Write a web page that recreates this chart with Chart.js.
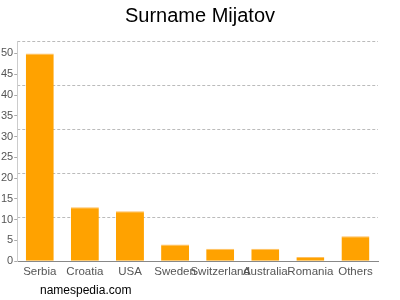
<!DOCTYPE html>
<html>
<head>
<meta charset="utf-8">
<script src="https://cdn.jsdelivr.net/npm/chart.js@4"></script>
<style>
  html, body { margin: 0; padding: 0; background: #fff; }
  #wrap { position: relative; width: 400px; height: 300px; }
  #credit { position: absolute; left: 40px; top: 283px; font: 12px "Liberation Sans", Arial, sans-serif; color: #000; }
</style>
</head>
<body>
<div id="wrap">
  <canvas id="chart" width="400" height="300"></canvas>
  <div id="credit">namespedia.com</div>
</div>
<script>
const countries = ['Serbia', 'Croatia', 'USA', 'Sweden', 'Switzerland', 'Australia', 'Romania', 'Others'];
const counts = [50, 13, 12, 4, 3, 3, 1, 6];
const yTicks = [0, 5, 10, 15, 20, 25, 30, 35, 40, 45, 50];
const yMax = 53;

// dashed grid splits the full axis height into 5 equal bands
const gridSteps = [1, 2, 3, 4, 5];

new Chart(document.getElementById('chart'), {
    type: 'bar',
    data: {
        labels: countries,
        datasets: [{
            data: counts,
            backgroundColor: '#ffa200',
            borderColor: '#ffc060',
            borderWidth: { top: 1, left: 0, right: 0, bottom: 0 },
            borderSkipped: false,
            barPercentage: 0.62,
            categoryPercentage: 1
        }]
    },
    options: {
        responsive: false,
        animation: false,
        layout: { padding: { left: 0, right: 0, top: 0, bottom: 21 } },
        plugins: {
            legend: { display: false },
            tooltip: { enabled: false },
            title: {
                display: true,
                text: 'Surname Mijatov',
                color: '#000',
                font: { family: 'Liberation Sans', size: 20, weight: 'normal' },
                padding: { top: 4, bottom: 13 }
            }
        },
        scales: {
            x: {
                grid: { display: false, drawOnChartArea: false, tickLength: 4, color: '#888' },
                border: { color: '#888' },
                ticks: {
                    color: '#555',
                    font: { family: 'Liberation Sans', size: 11.5 },
                    maxRotation: 0,
                    autoSkip: false,
                    padding: 0
                }
            },
            y: {
                min: 0,
                max: yMax,
                afterBuildTicks: s => { s.ticks = yTicks.map(v => ({ value: v })); },
                grid: { drawOnChartArea: false, tickLength: 3, color: '#aaa' },
                border: { color: '#ccc' },
                ticks: {
                    color: '#555',
                    font: { family: 'Liberation Sans', size: 11 },
                    padding: 1
                }
            },
            yGrid: {
                position: 'right',
                min: 0,
                max: yMax,
                afterBuildTicks: s => { s.ticks = gridSteps.map(k => ({ value: yMax * k / 5 })); },
                afterFit: s => { s.width = 22; },
                ticks: { display: false },
                grid: { color: '#bbb', drawTicks: false, tickLength: 0 },
                border: { display: false, dash: [3, 2] }
            }
        }
    }
});
</script>
</body>
</html>
